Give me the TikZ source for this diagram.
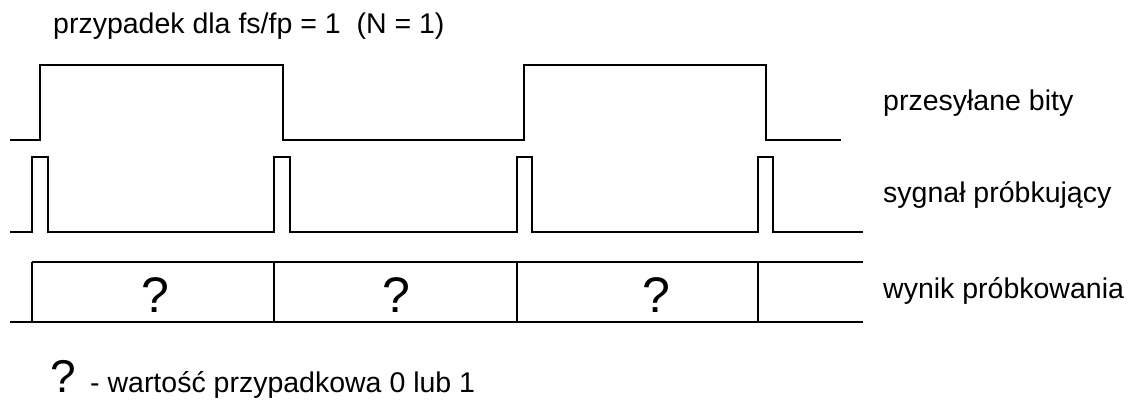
\documentclass[tikz,border=0pt]{standalone}
\usepackage{fontspec}
\setmainfont{Liberation Sans}
\usepackage{tikz}

\begin{document}
\begin{tikzpicture}[x=1pt,y=1pt]
\tikzstyle{every node}+=[inner sep=0pt]
\tikzstyle{txt}=[anchor=base west, font=\fontsize{28.5}{34}\selectfont]
\tikzstyle{qmark}=[anchor=base, font=\fontsize{50}{60}\selectfont]
\tikzstyle{wave}=[black, line width=1.6pt, line join=miter]
\useasboundingbox (0,0) rectangle (1132,-399);
\node [txt] (title) at (53,-33) {przypadek dla fs/fp = 1\ \ (N = 1)};
% przesylane bity
\draw [wave] (10,-140) -- (40,-140) -- (40,-65) -- (283,-65) -- (283,-140) -- (524,-140) -- (524,-65) -- (766,-65) -- (766,-140) -- (841,-140);
\node [txt] (bits) at (883,-110) {przesyłane bity};
% sygnal probkujacy
\draw [wave] (10,-232) -- (32,-232) -- (32,-157) -- (48,-157) -- (48,-232) -- (274,-232) -- (274,-157) -- (290,-157) -- (290,-232) -- (517,-232) -- (517,-157) -- (532,-157) -- (532,-232) -- (758,-232) -- (758,-157) -- (773,-157) -- (773,-232) -- (863,-232);
\node [txt] (probe) at (883,-202) {sygnał próbkujący};
% wynik probkowania
\draw [wave] (10,-322) -- (863,-322);
\draw [wave] (32,-262) -- (863,-262);
\draw [wave] (32,-262) -- (32,-322);
\draw [wave] (274,-262) -- (274,-322);
\draw [wave] (517,-262) -- (517,-322);
\draw [black, line width=1.2pt] (758,-262) -- (758,-322);
\node [qmark] (q1) at (155,-312) {?};
\node [qmark] (q2) at (396,-312) {?};
\node [qmark] (q3) at (656,-312) {?};
\node [txt] (result) at (883,-298) {wynik próbkowania};
% legenda
\node [txt, font=\fontsize{46}{54}\selectfont] (qleg) at (50,-392) {?};
\node [txt] (legend) at (90,-392) {- wartość przypadkowa 0 lub 1};
\end{tikzpicture}
\end{document}
